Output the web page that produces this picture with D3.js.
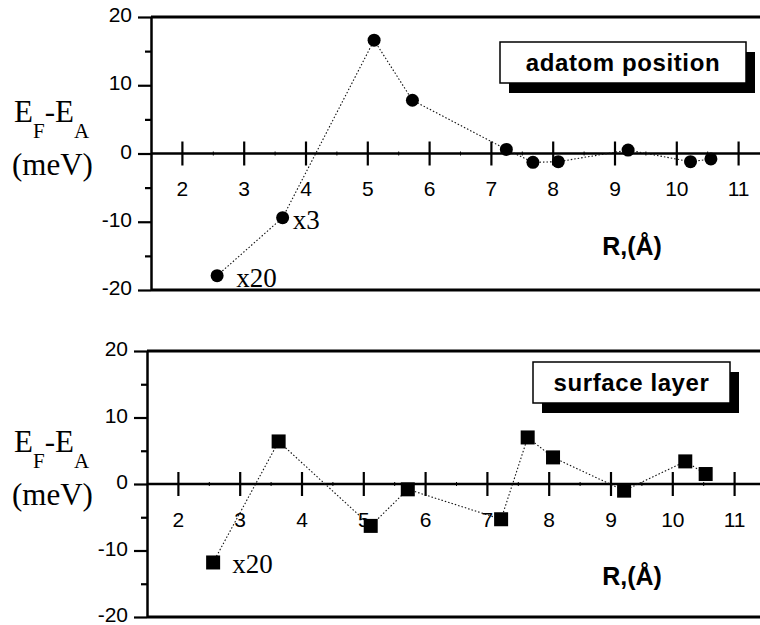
<!DOCTYPE html>
<html>
<head>
<meta charset="utf-8">
<script src="https://cdn.jsdelivr.net/npm/d3@7"></script>
<style>
  body { margin: 0; background: #fff; }
  svg { display: block; }
</style>
</head>
<body>
<div id="chart"></div>
<script>
// distance R (Angstrom) and E_F - E_A (meV)
const adatomR = [2.57, 3.63, 5.11, 5.73, 7.25, 7.68, 8.09, 9.22, 10.23, 10.56];
const adatomE = [-17.9, -9.4, 16.6, 7.8, 0.6, -1.3, -1.2, 0.5, -1.2, -0.8];
const surfaceR = [2.57, 3.63, 5.12, 5.72, 7.23, 7.66, 8.07, 9.22, 10.21, 10.54];
const surfaceE = [-11.8, 6.4, -6.3, -0.8, -5.3, 7.0, 4.0, -1.0, 3.4, 1.5];

const xTicks = [2, 3, 4, 5, 6, 7, 8, 9, 10, 11];
const xMinor = [2.5, 3.5, 4.5, 5.5, 6.5, 7.5, 8.5, 9.5, 10.5];
const yTicks = [-20, -10, 0, 10, 20];
const yMinor = [-15, -5, 5, 15];

const adatomNotes = [{i: 0, label: 'x20'}, {i: 1, label: 'x3'}];
const surfaceNotes = [{i: 0, label: 'x20'}];

const W = 760, H = 625;
const sans = '"Liberation Sans", Arial, Helvetica, sans-serif';
const serif = '"Liberation Serif", "Times New Roman", serif';

const svg = d3.select('#chart').append('svg').attr('width', W).attr('height', H);

// panel layout
const panels = [
    {R: adatomR, E: adatomE, notes: adatomNotes, marker: 'circle', title: 'adatom position',
        left: 151, top: 17, bottom: 290, box: {x: 500, y: 42, w: 246, h: 41}},
    {R: surfaceR, E: surfaceE, notes: surfaceNotes, marker: 'square', title: 'surface layer',
        left: 147, top: 351, bottom: 617, box: {x: 533, y: 362, w: 197, h: 41}}
];

const pxPerUnit = 61.8;

function draw_panel(p) {
    let g = svg.append('g');
    let x = d3.scaleLinear().domain([1.5, 11.5]).range([p.left, p.left + 10 * pxPerUnit]);
    let y = d3.scaleLinear().domain([-20, 20]).range([p.bottom, p.top]);
    let zero = y(0);

    // frame lines top / bottom
    [20, -20].forEach(v => {
        g.append('line').attr('x1', p.left).attr('x2', W).attr('y1', y(v)).attr('y2', y(v))
            .style('stroke', '#000').style('stroke-width', 3);
    });

    // y axis
    let yAxis = g.append('g').attr('transform', 'translate(' + p.left + ',0)')
        .call(d3.axisLeft(y).tickValues(yTicks).tickSize(13).tickSizeOuter(0).tickPadding(6)
            .tickFormat(d => String(d)));
    yAxis.select('.domain').style('stroke-width', 2.5);
    yAxis.selectAll('.tick line').style('stroke-width', 2.2);
    yAxis.selectAll('.tick text').attr('dy', '0.22em')
        .attr('font-family', sans).attr('font-size', 21).attr('fill', '#000');
    let yMin = g.append('g').attr('transform', 'translate(' + p.left + ',0)')
        .call(d3.axisLeft(y).tickValues(yMinor).tickSize(6).tickFormat(''));
    yMin.select('.domain').remove();
    yMin.selectAll('.tick line').style('stroke-width', 2.2);

    // x axis along zero line, ticks crossing it
    let xAxis = g.append('g').attr('transform', 'translate(0,' + zero + ')')
        .call(d3.axisBottom(x).tickValues(xTicks).tickSize(12).tickPadding(16));
    xAxis.select('.domain').remove();
    xAxis.selectAll('.tick line').attr('y1', -12).style('stroke-width', 2.2);
    xAxis.selectAll('.tick text').attr('font-family', sans).attr('font-size', 21).attr('fill', '#000');
    let xMin = g.append('g').attr('transform', 'translate(0,' + zero + ')')
        .call(d3.axisBottom(x).tickValues(xMinor).tickSize(2).tickFormat(''));
    xMin.select('.domain').remove();
    xMin.selectAll('.tick line').attr('y1', -2).style('stroke-width', 1);
    g.append('line').attr('x1', p.left).attr('x2', W).attr('y1', zero).attr('y2', zero)
        .style('stroke', '#000').style('stroke-width', 2.5);

    // y label
    let yl = g.append('text').attr('x', 14).attr('y', zero - 32)
        .attr('font-family', serif).attr('font-size', 31).attr('fill', '#000');
    yl.append('tspan').text('E');
    yl.append('tspan').text('F').attr('font-size', 21).attr('dy', 16);
    yl.append('tspan').text('-E').attr('dy', -16);
    yl.append('tspan').text('A').attr('font-size', 21).attr('dy', 16);
    g.append('text').attr('x', 12).attr('y', zero + 21)
        .attr('font-family', serif).attr('font-size', 31).text('(meV)');

    // x label
    g.append('text').attr('x', 632).attr('y', zero + 101).attr('text-anchor', 'middle')
        .attr('font-family', sans).attr('font-weight', 'bold').attr('font-size', 25).text('R,(Å)');

    // data
    let pts = p.R.map((r, i) => [r, p.E[i]]);
    g.append('path').datum(pts)
        .attr('d', d3.line().x(d => x(d[0])).y(d => y(d[1])))
        .attr('fill', 'none').attr('stroke', '#111').attr('stroke-width', 1.1)
        .attr('stroke-dasharray', '1.5,2');
    if (p.marker === 'circle') {
        g.selectAll('.pt').data(pts).enter().append('circle')
            .attr('cx', d => x(d[0])).attr('cy', d => y(d[1])).attr('r', 6.5).attr('fill', '#000');
    } else {
        g.selectAll('.pt').data(pts).enter().append('rect')
            .attr('x', d => x(d[0]) - 7).attr('y', d => y(d[1]) - 7)
            .attr('width', 14).attr('height', 14).attr('fill', '#000');
    }

    // scale factor notes
    p.notes.forEach(n => {
        g.append('text').attr('x', x(p.R[n.i]) + (n.label === 'x3' ? 10 : 19)).attr('y', y(p.E[n.i]) + 11)
            .attr('font-family', serif).attr('font-size', 27).text(n.label);
    });

    // legend box with drop shadow
    let b = p.box;
    g.append('rect').attr('x', b.x + 9).attr('y', b.y + 10).attr('width', b.w).attr('height', b.h)
        .attr('fill', '#000');
    g.append('rect').attr('x', b.x).attr('y', b.y).attr('width', b.w).attr('height', b.h)
        .attr('fill', '#fff').style('stroke', '#000').style('stroke-width', 1.5);
    g.append('text').attr('x', b.x + b.w / 2).attr('y', b.y + b.h / 2 + 8).attr('text-anchor', 'middle')
        .attr('font-family', sans).attr('font-weight', 'bold').attr('font-size', 24)
        .attr('letter-spacing', 0.6).text(p.title);
}

panels.forEach(draw_panel);
</script>
</body>
</html>
